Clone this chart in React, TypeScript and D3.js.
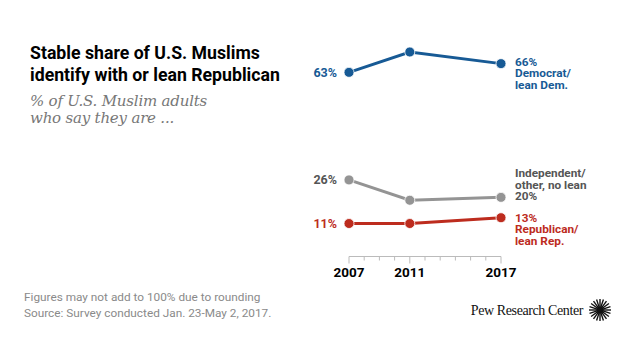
import React from "react";
import * as d3 from "d3";

const years = [2007, 2011, 2017];
const democrat = [63, 70, 66];
const independent = [26, 19, 20];
const republican = [11, 11, 13];
const tickYears = [2007, 2008, 2009, 2010, 2011, 2012, 2013, 2014, 2015, 2016, 2017];
const labelYears = [2007, 2011, 2017];

const seriesList = [
  { key: "dem", values: democrat, line: "#175a95", text: "#175a95", right: ["66%", "Democrat/", "lean Dem."], rightOffset: -8 },
  { key: "ind", values: independent, line: "#949494", text: "#555555", right: ["Independent/", "other, no lean", "20%"], rightOffset: -30.5 },
  { key: "rep", values: republican, line: "#bd2c1e", text: "#bd2c1e", right: ["13%", "Republican/", "lean Rep."], rightOffset: -6 },
];

export default function App() {
  const W = 640, H = 360;
  const x = d3.scaleLinear().domain([2007, 2017]).range([349, 501]);
  const y = d3.scaleLinear().domain([0, 70]).range([255.5, 52]);
  const line = d3.line<number>().x((_, i) => x(years[i])).y((d) => y(d));
  const sans = "Roboto, 'Liberation Sans', Arial, sans-serif";
  const axisY = y(0) + 1;

  const logoCx = 600, logoCy = 310;
  const rays = d3.range(20).map((i) => (i / 20) * Math.PI * 2);

  return (
    <svg width={W} height={H} style={{ position: "absolute", left: 0, top: 0, background: "#fff" }} fontFamily={sans}>
      <rect width={W} height={H} fill="#fff" />
      <text x={30} y={59} fontSize={17.7} fontWeight="bold" fill="#000">Stable share of U.S. Muslims</text>
      <text x={30} y={80.5} fontSize={17.7} fontWeight="bold" fill="#000">identify with or lean Republican</text>
      <text x={30} y={106} fontSize={15} fontStyle="italic" fill="#777" fontFamily="'DejaVu Serif', 'Liberation Serif', serif" letterSpacing={-0.2}>% of U.S. Muslim adults</text>
      <text x={30} y={122.5} fontSize={15} fontStyle="italic" fill="#777" fontFamily="'DejaVu Serif', 'Liberation Serif', serif" letterSpacing={-0.2}>who say they are ...</text>

      {/* axis */}
      <line x1={x(2007)} x2={x(2017)} y1={axisY} y2={axisY} stroke="#bbb" strokeWidth={1} />
      {tickYears.map((t) => (
        <line key={t} x1={x(t)} x2={x(t)} y1={axisY} y2={axisY + (labelYears.includes(t) ? 7 : 4)} stroke="#bbb" strokeWidth={1} />
      ))}
      {labelYears.map((t) => (
        <text key={t} x={x(t)} y={276.5} textAnchor="middle" fontSize={13.5} fontWeight="bold" fill="#000">{t}</text>
      ))}

      {seriesList.map((s) => (
        <g key={s.key}>
          <path d={line(s.values) || ""} fill="none" stroke={s.line} strokeWidth={3} />
          {s.values.map((v, i) => (
            <circle key={i} cx={x(years[i])} cy={y(v)} r={5} fill={s.line} stroke="#fff" strokeWidth={0.8} />
          ))}
          <text x={x(2007) - 12} y={y(s.values[0]) + 4.5} textAnchor="end" fontSize={12.5} fontWeight="bold" fill={s.text}>{s.values[0]}%</text>
          {s.right.map((r, j) => (
            <text key={j} x={515} y={y(s.values[2]) + s.rightOffset + 10 + j * 11.7} fontSize={11.8} fontWeight="bold" fill={s.text}>{r}</text>
          ))}
        </g>
      ))}

      <text x={24} y={301} fontSize={11.8} fill="#8a8a8a">Figures may not add to 100% due to rounding</text>
      <text x={24} y={317} fontSize={11.8} fill="#8a8a8a">Source: Survey conducted Jan. 23-May 2, 2017.</text>

      <text x={583} y={315} textAnchor="end" fontSize={14} fill="#111" fontFamily="'Liberation Serif', 'DejaVu Serif', serif" letterSpacing={-0.4}>Pew Research Center</text>
      <g>
        {rays.map((a, i) => (
          <line key={i} x1={logoCx + Math.cos(a) * 3} y1={logoCy + Math.sin(a) * 3} x2={logoCx + Math.cos(a) * 11} y2={logoCy + Math.sin(a) * 11} stroke="#111" strokeWidth={1.4} />
        ))}
        <circle cx={logoCx} cy={logoCy} r={3.5} fill="#111" />
      </g>
    </svg>
  );
}
